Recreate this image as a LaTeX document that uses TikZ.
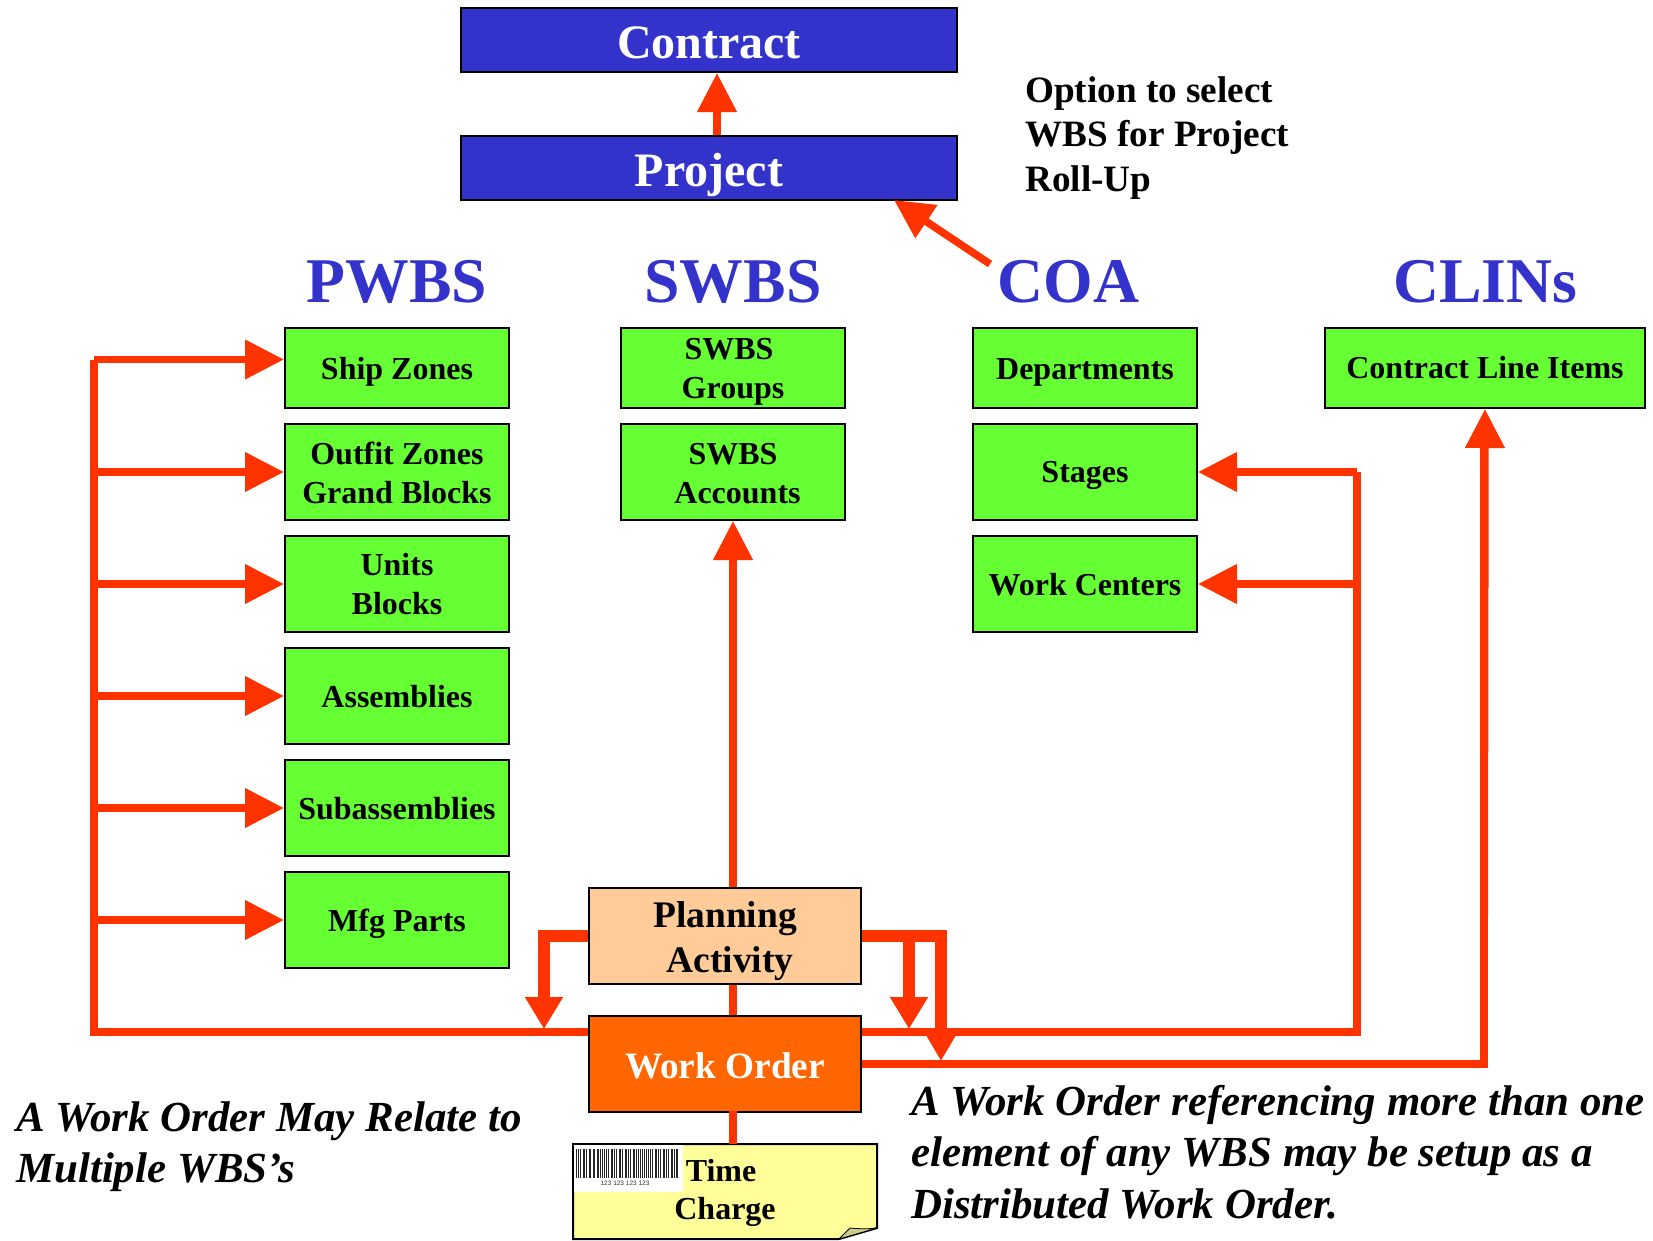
\documentclass[tikz,border=0pt]{standalone}
\usepackage{fontspec}
\setmainfont{Liberation Serif}
\usetikzlibrary{arrows.meta,calc}
\definecolor{gbox}{HTML}{66FF33}
\definecolor{bbox}{HTML}{3333CC}
\definecolor{obox}{HTML}{FF6600}
\definecolor{pbox}{HTML}{FFCC99}
\definecolor{ybox}{HTML}{FFFF99}
\definecolor{arr}{HTML}{FF3300}
\definecolor{fold}{HTML}{CCCC88}
\newcommand{\fs}[1]{\fontsize{#1}{#1}\selectfont}
\newcommand{\dn}[2]{\raisebox{-#1}[\height][\depth]{#2}}
\tikzset{
  anybox/.style={draw=black,line width=2pt,inner sep=0pt,align=center,font=\bfseries},
  greenbox/.style={anybox,fill=gbox,minimum width=224pt,font=\fs{32}\bfseries},
  headbox/.style={anybox,fill=bbox,text=white,minimum width=496pt,minimum height=64pt,font=\fs{48}\bfseries},
  title/.style={text=bbox,font=\fs{63.7}\bfseries,inner sep=0pt},
  wire/.style={draw=arr,line width=7.5pt},
  thickwire/.style={draw=arr,line width=12pt},
  wirehead/.style={wire,-{Triangle[length=39pt,width=38pt]}},
  droph/.style={thickwire,-{Triangle[length=32pt,width=36pt]}},
  note/.style={font=\fs{37.2}\bfseries,align=left,anchor=west,inner sep=0pt},
  inote/.style={font=\fs{42.9}\bfseries\itshape,anchor=west,inner sep=0pt},
}
\begin{document}
\begin{tikzpicture}[x=1pt,y=-1pt]
\useasboundingbox (0,0) rectangle (1653,1240);
% top boxes
\node[headbox] (contract) at (709,40) {\dn{2.5pt}{Contract}};
\node[headbox] (project) at (709,168) {\dn{6.5pt}{Project}};
% titles
\node[title] (tpwbs) at (397,282) {PWBS};
\node[title] (tswbs) at (733,282) {SWBS};
\node[title] (tcoa) at (1068.5,282) {COA};
\node[title] (tclin) at (1485.5,282) {CLINs};
% PWBS
\node[greenbox,minimum height=80pt] (ship) at (397,368) {\dn{4pt}{Ship Zones}};
\node[greenbox,minimum height=96pt] (outfit) at (397,472) {\dn{1pt}{Outfit Zones}\\[7pt]\dn{1pt}{Grand Blocks}};
\node[greenbox,minimum height=96pt] (units) at (397,584) {\dn{0.5pt}{Units}\\[7pt]\dn{0.5pt}{Blocks}};
\node[greenbox,minimum height=96pt] (assem) at (397,696) {\dn{0.5pt}{Assemblies}};
\node[greenbox,minimum height=96pt] (subas) at (397,808) {\dn{1pt}{Subassemblies}};
\node[greenbox,minimum height=96pt] (mfg) at (397,920) {\dn{3.5pt}{Mfg Parts}};
% SWBS
\node[greenbox,minimum height=80pt] (sgroups) at (733,368) {\dn{4pt}{\hspace*{-8pt}SWBS}\\[7.5pt]\dn{4pt}{Groups}};
\node[greenbox,minimum height=96pt] (saccts) at (733,472) {\dn{1.5pt}{SWBS}\\[7.5pt]\dn{1.5pt}{\hspace*{9pt}Accounts}};
% COA
\node[greenbox,minimum height=80pt] (dept) at (1085,368) {\dn{4pt}{Departments}};
\node[greenbox,minimum height=96pt] (stages) at (1085,472) {\dn{3.5pt}{Stages}};
\node[greenbox,minimum height=96pt] (wc) at (1085,584) {\dn{1pt}{Work Centers}};
% CLIN
\node[greenbox,minimum width=320pt,minimum height=80pt] (clin) at (1485,368) {Contract Line Items};
% centre
\node[anybox,fill=pbox,minimum width=272pt,minimum height=96pt,font=\fs{37.5}\bfseries] (plan) at (725,936) {\dn{5pt}{Planning}\\[7pt]\dn{5pt}{\hspace*{10pt}Activity}};
\node[anybox,fill=obox,text=white,minimum width=272pt,minimum height=96pt,font=\fs{37.3}\bfseries] (wo) at (725,1064) {\dn{2pt}{Work Order}};
% time charge note
\coordinate (tcnw) at (573,1144);
\coordinate (tcne) at (877,1144);
\coordinate (tcse) at (877,1228);
\coordinate (tcfold) at (839,1239);
\coordinate (tcsw) at (573,1239);
\filldraw[fill=ybox,draw=black,line width=2pt] (tcnw) -- (tcne) -- (tcse) -- (tcfold) -- (tcsw) -- cycle;
\filldraw[fill=fold,draw=black,line width=0.8pt] (tcfold) -- (850,1228) .. controls (860,1229) and (868,1229) .. (tcse) -- cycle;
\fill[white] (574,1145) rectangle (683,1192);
\foreach \bx/\bw in {576/1,578/.6,580/1.2,582.5/.6,584/1,586/1.4,588.5/.6,590/1,592.5/.6,594/1.4,596.5/.6,598/1,600/.6,601.5/1.4,604/.6,606/1,608/1.4,610.5/.6,612/1,614/.6,616/1.4,618.5/.6,620/1,622/1.4,624.5/.6,626/1,628/.6,630/1.4,632.5/.6,634/1,636/.6,637.5/1.4,640/.6,642/1,644/.6,645.5/1.4,648/1,650/.6,652/1.4,654.5/.6,656/1,658/.6,660/1.4,662.5/.6,664/1,666/.6,668/1.4,670.5/.6,672/1,674/.6,675.5/1.4,677/.6}
  \fill[black!85] (\bx,1149) rectangle ++(\bw,29);
\node[inner sep=0pt,font=\fontspec{Liberation Sans}\fs{6.5},text=black!80] (barnum) at (625,1183) {123 123 123 123};
\node[font=\fs{32}\bfseries,inner sep=0pt] (ttime) at (721,1171) {Time};
\node[font=\fs{32}\bfseries,inner sep=0pt] (tcharge) at (725,1212) {Charge};
% connectors
\coordinate (tcn) at (733,1144);
\coordinate (railSW) at (94,1032);
\coordinate (railNW) at (94,359.5);
\coordinate (railE) at (1357,1032);
\coordinate (railNE) at (1357,472);
\draw[wire] (733,1111) -- (tcn);
\draw[wire] (733,1015) -- (733,985);
\draw[wirehead] (plan.north -| 733,0) -- (saccts.south);
\draw[wirehead] (project.north -| 717,0) -- (contract.south -| 717,0);
\draw[wirehead] (990,264) -- (894,200);
\draw[wire,line join=miter] (wo.west |- railSW) -- (railSW) -- (railNW);
\foreach \n/\yy in {ship/359.5,outfit/472,units/584,assem/696,subas/808,mfg/920}
  \draw[wirehead] (94,\yy) -- (\n.west |- 0,\yy);
\draw[wire,line join=miter] (wo.east |- railE) -- (railE) -- (railNE);
\draw[wirehead] (railNE) -- (stages.east);
\draw[wirehead] (1357,584) -- (wc.east);
\draw[wire,line join=miter] (wo.east) -- (1484,1064) -- (1484,448);
\draw[wirehead] (1484,1064) -- (clin.south);
\draw[thickwire] (plan.west |- 0,936) -- (538,936);
\draw[droph] (544,930) -- (544,1029);
\draw[thickwire] (plan.east |- 0,936) -- (947,936);
\draw[droph] (909,936) -- (909,1029);
\draw[thickwire,-{Triangle[length=33pt,width=36pt]}] (941,930) -- (941,1061);
% text
\node[note] (opt1) at (1025,94) {Option to select};
\node[note] (opt2) at (1025,137) {WBS for Project};
\node[note] (opt3) at (1025,183) {Roll-Up};
\node[inote] (l1) at (16,1121) {A Work Order May Relate to};
\node[inote] (l2) at (16,1172) {Multiple WBS’s};
\node[inote] (r1) at (911,1105) {A Work Order referencing more than one};
\node[inote] (r2) at (911,1156) {element of any WBS may be setup as a};
\node[inote] (r3) at (911,1204) {Distributed Work Order.};
\end{tikzpicture}
\end{document}
